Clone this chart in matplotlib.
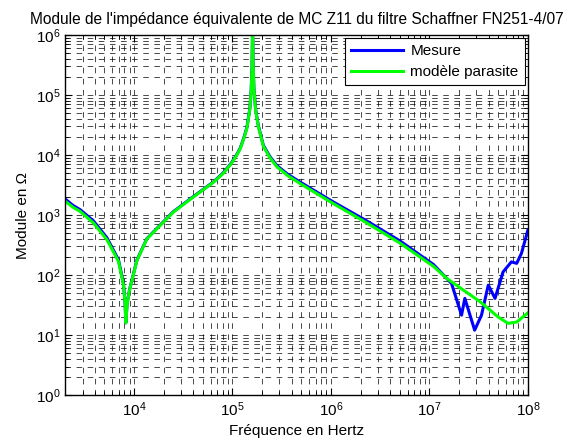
import matplotlib
matplotlib.use("Agg")
import matplotlib.pyplot as plt
import numpy as np

plt.rcParams['font.family'] = ['Liberation Sans', 'DejaVu Sans']
plt.rcParams['mathtext.fontset'] = 'custom'
plt.rcParams['mathtext.rm'] = 'Liberation Sans'
plt.rcParams['mathtext.it'] = 'Liberation Sans'
plt.rcParams['lines.scale_dashes'] = False

# modèle parasite
f_modele = [2e3, 2.4e3, 2.84e3, 3.87e3, 5.3e3, 6.95e3, 7.8e3, 8.1e3, 8.26e3, 8.5e3,
            9e3, 1.07e4, 1.35e4, 1.84e4, 2.51e4, 4.0e4, 6.45e4, 8.0e4, 9.6e4, 1.1e5,
            1.2e5, 1.3e5, 1.4e5, 1.5e5, 1.55e5, 1.58e5, 1.6e5, 1.62e5, 1.65e5, 1.72e5,
            1.83e5, 2.06e5, 2.4e5, 2.82e5, 3.6e5, 4.86e5, 1.06e6, 2.31e6, 5.04e6, 1.1e7,
            1.5e7, 3.27e7, 5.0e7, 6.3e7, 7.7e7, 1e8]
z_modele = [1700, 1350, 1150, 740, 390, 170, 70, 36, 16, 32,
            56, 175, 400, 670, 1120, 2000, 3550, 4900, 7000, 9800,
            12800, 18500, 28000, 58000, 120000, 300000, 1.5e6, 350000, 130000, 55000,
            30000, 14000, 9000, 6400, 4600, 3350, 1550, 740, 340, 140,
            88, 36, 20, 15.7, 16.5, 23.5]

# mesure
f_mesure = [2e3, 2.4e3, 2.84e3, 3.87e3, 5.3e3, 6.95e3, 7.8e3, 8.1e3, 8.26e3, 8.5e3,
            9e3, 1.07e4, 1.35e4, 1.84e4, 2.51e4, 4.0e4, 6.45e4, 8.0e4, 9.6e4, 1.1e5,
            1.2e5, 1.3e5, 1.4e5, 1.5e5, 1.55e5, 1.58e5, 1.6e5, 1.62e5, 1.65e5, 1.72e5,
            1.83e5, 2.06e5, 2.4e5, 2.82e5, 3.6e5, 4.86e5, 1.06e6, 2.31e6, 5.04e6, 1.1e7,
            1.5e7, 1.68e7, 2.12e7, 2.29e7, 2.88e7, 3.38e7, 3.96e7, 4.64e7, 5.6e7, 6.8e7,
            7.7e7, 8.6e7, 1e8]
z_mesure = [1850, 1450, 1230, 800, 420, 180, 74, 37, 16, 33,
            57, 178, 405, 680, 1140, 2030, 3600, 5000, 7150, 10000,
            13100, 19000, 28700, 59000, 122000, 300000, 1.5e6, 350000, 133000, 57000,
            31000, 14500, 9400, 6700, 4850, 3550, 1650, 800, 370, 150,
            88, 72, 21.5, 41, 12.1, 21.5, 68, 41, 113, 166,
            157, 230, 560]

fig, ax = plt.subplots(figsize=(5.82, 4.46), dpi=100)
fig.subplots_adjust(left=0.112, right=0.907, bottom=0.114, top=0.9215)

ax.loglog(f_mesure, z_mesure, color=(0, 0, 1), lw=2.2, label='Mesure')
ax.loglog(f_modele, z_modele, color=(0, 1, 0), lw=2.2, label='modèle parasite')

ax.set_xlim(2e3, 1e8)
ax.set_ylim(1, 1e6)
ax.set_xticks([1e4, 1e5, 1e6, 1e7, 1e8])
ax.set_yticks([1e0, 1e1, 1e2, 1e3, 1e4, 1e5, 1e6])

ax.grid(True, which='both', color='k', lw=0.5, ls=(0, (4, 4)))
ax.tick_params(which='both', direction='in', top=True, right=True, labelsize=11)
ax.tick_params(which='major', length=5)
ax.tick_params(which='minor', length=3)
for s in ax.spines.values():
    s.set_linewidth(1.0)

ax.set_title("Module de l'impédance équivalente de MC Z11 du filtre Schaffner FN251-4/07",
             fontsize=11.2, pad=8)
ax.set_xlabel("Fréquence en Hertz", fontsize=11)
ax.set_ylabel("Module en Ω", fontsize=11)

leg = ax.legend(loc='upper right', fancybox=False, edgecolor='k', framealpha=1,
                borderaxespad=0.2, handlelength=3.4, fontsize=11,
                borderpad=0.4, labelspacing=0.45, handletextpad=0.5)
leg.get_frame().set_linewidth(0.8)

plt.savefig('out.png', dpi=100)
